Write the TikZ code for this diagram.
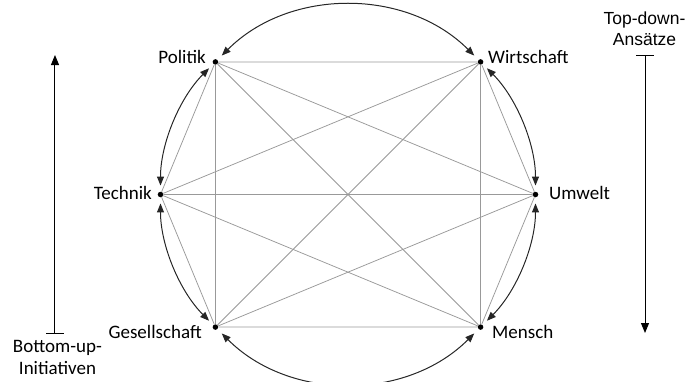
\documentclass[tikz,border=0pt]{standalone}
\usepackage{fontspec}
\setmainfont{Carlito}
\newfontfamily\arialfont{Liberation Sans}
\usetikzlibrary{arrows.meta}

\begin{document}
\begin{tikzpicture}[x=1pt,y=1pt,
  punkt/.style={circle,fill=black,inner sep=0pt,minimum size=5.5pt},
  etikett/.style={inner sep=0pt,font=\fontsize{19}{23}\selectfont},
  kante/.style={draw=black!40,line width=0.75pt},
  bogen/.style={draw=black!85,line width=1pt,{Triangle[length=9pt,width=7pt]}-{Triangle[length=9pt,width=7pt]},shorten <=6pt,shorten >=6pt},
  pfeil/.style={draw=black,line width=1pt,{Bar[width=18pt]}-{Triangle[length=10pt,width=8pt]}}
]
\useasboundingbox (-348,-186.5) rectangle (340,194.5);
\node[punkt] (pol) at (135:187.5) {};
\node[punkt] (wir) at (45:187.5) {};
\node[punkt] (umw) at (0:187.5) {};
\node[punkt] (men) at (-45:187.5) {};
\node[punkt] (ges) at (-135:187.5) {};
\node[punkt] (tec) at (180:187.5) {};
\node[etikett,anchor=base east] (polt) at (-142,131.5) {Politik};
\node[etikett,anchor=base west] (wirt) at (140,131.5) {Wirtschaft};
\node[etikett,anchor=base west] (umwt) at (201,-5) {Umwelt};
\node[etikett,anchor=base west] (ment) at (144,-143.5) {Mensch};
\node[etikett,anchor=base east] (gest) at (-146,-143.5) {Gesellschaft};
\node[etikett,anchor=base east] (tect) at (-196,-4.5) {Technik};
\draw[kante] (pol)--(wir) (pol)--(umw) (pol)--(men) (pol)--(ges) (pol)--(tec);
\draw[kante] (wir)--(umw) (wir)--(men) (wir)--(ges) (wir)--(tec);
\draw[kante] (umw)--(men) (umw)--(ges) (umw)--(tec);
\draw[kante] (men)--(ges) (men)--(tec);
\draw[kante] (ges)--(tec);
\draw[bogen] (pol) to[bend left=45,looseness=1] (wir);
\draw[bogen] (wir) to[bend left=22.5,looseness=0.885] (umw);
\draw[bogen] (umw) to[bend left=22.5,looseness=0.885] (men);
\draw[bogen] (men) to[bend left=45,looseness=1] (ges);
\draw[bogen] (ges) to[bend left=22.5,looseness=0.885] (tec);
\draw[bogen] (tec) to[bend left=22.5,looseness=0.885] (pol);
\node[etikett,align=center,anchor=north,font=\fontsize{19}{22}\selectfont] (bu) at (-290.5,-146) {Bottom-up-\\Initiativen};
\coordinate (bu0) at (-293,-139.5);
\coordinate (bu1) at (-293,139.5);
\draw[pfeil] (bu0)--(bu1);
\node[etikett,align=center,anchor=south,font=\arialfont\fontsize{17.5}{21}\selectfont] (td) at (296.5,149) {Top-down-\\Ansätze};
\coordinate (td0) at (297,139.5);
\coordinate (td1) at (297,-138.5);
\draw[pfeil] (td0)--(td1);
\end{tikzpicture}
\end{document}
